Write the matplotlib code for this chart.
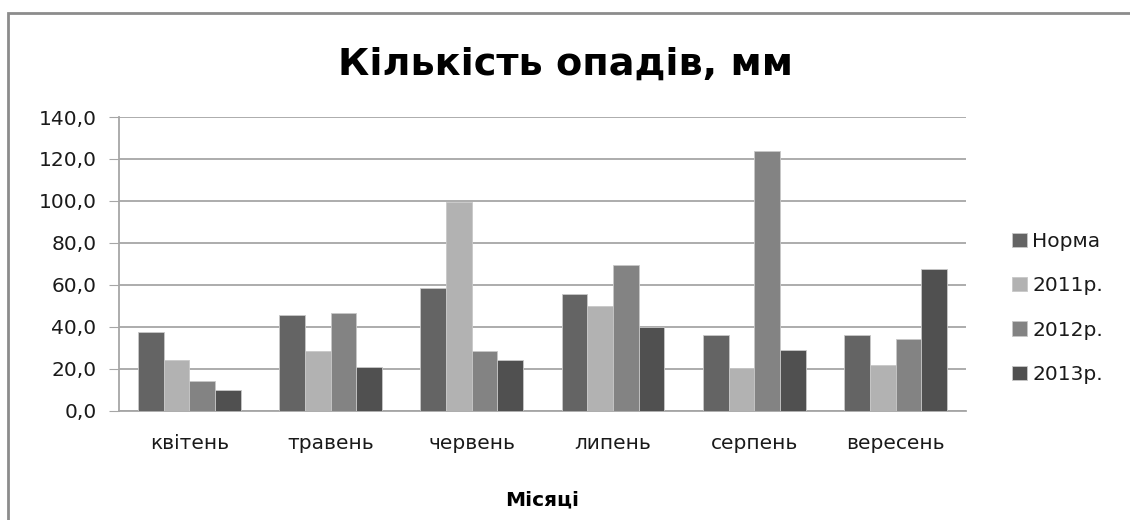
import numpy as np
import matplotlib.pyplot as plt
from matplotlib.patches import Rectangle
from matplotlib.ticker import FuncFormatter

# =========================
# Data
# =========================
months = ["квітень", "травень", "червень", "липень", "серпень", "вересень"]
series_names = ["Норма", "2011р.", "2012р.", "2013р."]
norma = [37.5, 45.6, 58.4, 55.7, 36.3, 35.9]
y2011 = [24.0, 28.6, 99.7, 50.0, 20.6, 21.7]
y2012 = [14.3, 46.7, 28.4, 69.4, 123.7, 34.1]
y2013 = [9.8, 21.1, 24.0, 39.7, 29.0, 67.5]
colors = ["#646464", "#b2b2b2", "#838383", "#505050"]

# =========================
# Plot style
# =========================
plt.rcParams["font.family"] = ["DejaVu Sans"]
grid_color = "#a6a6a6"

fig = plt.figure(figsize=(11.3, 5.2), dpi=100)
ax = fig.add_axes([0.105, 0.21, 0.75, 0.565])

x = np.arange(len(months))
bar_w = 0.182
for i, (vals, name) in enumerate(zip([norma, y2011, y2012, y2013], series_names)):
    ax.bar(x + (i - 1.5) * bar_w, vals, width=bar_w, color=colors[i],
           edgecolor="#c8c8c8", linewidth=0.6, label=name, zorder=3)

ax.set_xlim(-0.5, len(months) - 0.5)
ax.set_ylim(0, 140)
ax.set_yticks(np.arange(0, 141, 20))
ax.yaxis.set_major_formatter(FuncFormatter(lambda v, p: f"{v:.1f}".replace(".", ",")))
ax.set_xticks(x)
ax.set_xticklabels(months)
ax.grid(axis="y", color=grid_color, linewidth=1.3, zorder=0)

for s in ["top", "right"]:
    ax.spines[s].set_visible(False)
for s in ["left", "bottom"]:
    ax.spines[s].set_color(grid_color)
    ax.spines[s].set_linewidth(1.3)
ax.tick_params(axis="y", length=7, color=grid_color, labelsize=14.5, pad=9,
               labelcolor="#1a1a1a")
ax.tick_params(axis="x", length=0, labelsize=14.5, pad=17, labelcolor="#1a1a1a")

ax.set_xlabel("Місяці", fontsize=14.5, fontweight="bold", labelpad=27)
fig.text(0.5, 0.856, "Кількість опадів, мм", ha="center", va="baseline",
         fontsize=27.5, fontweight="bold")

leg = ax.legend(loc="center left", bbox_to_anchor=(1.054, 0.35), frameon=False,
                fontsize=14.5, handlelength=0.75, handleheight=0.7,
                handletextpad=0.25, labelspacing=1.25,
                borderpad=0, borderaxespad=0)
for t in leg.get_texts():
    t.set_color("#1a1a1a")

# outer chart border (cropped at right and bottom)
fig.patches.append(Rectangle((8 / 1130, -0.05), 1.2, 1 - 13 / 520 + 0.05,
                             transform=fig.transFigure, fill=False,
                             edgecolor="#8c8c8c", linewidth=2))

fig.savefig("out.png", dpi=100)
